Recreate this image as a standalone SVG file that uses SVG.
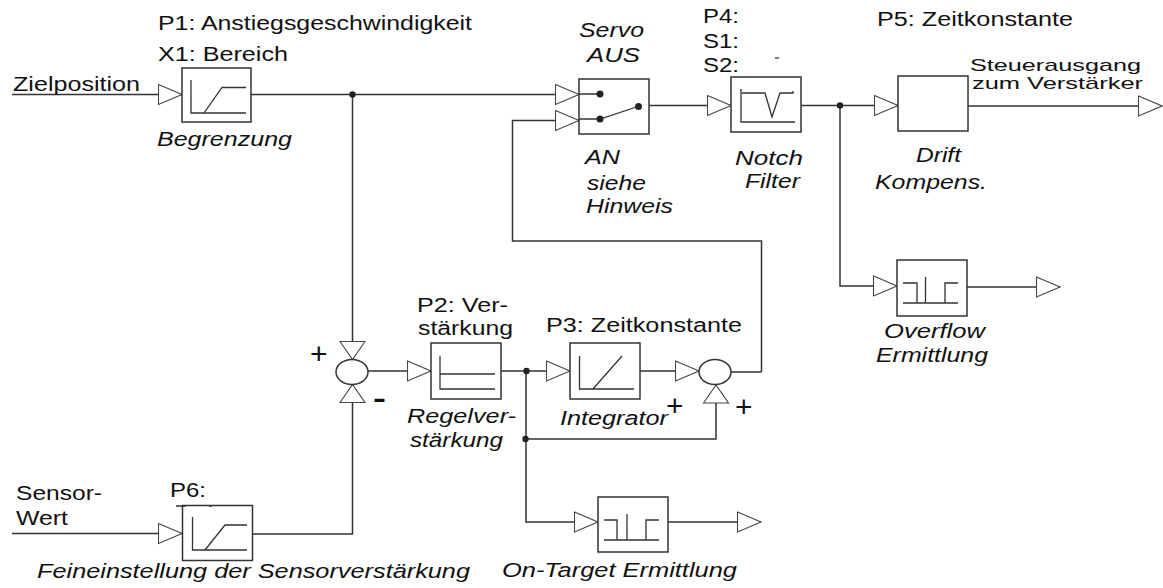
<svg xmlns="http://www.w3.org/2000/svg" width="1163" height="588" viewBox="0 0 1163 588">
<style>
.c{fill:none;stroke:#333;stroke-width:1.5}
.a{marker-end:url(#t)}
.v{marker-end:url(#u)}
.b{fill:#fff;stroke:#333;stroke-width:1.5}
.i{fill:none;stroke:#333;stroke-width:1.3}
.d{fill:#222;stroke:none}
text{font-family:"Liberation Sans",Arial,sans-serif;font-size:20px;fill:#111}
.it{font-style:italic}
.p{font-size:30px}
.s{font-size:17px}
</style>
<defs>
<marker id="t" markerUnits="userSpaceOnUse" markerWidth="26" markerHeight="24" refX="24.5" refY="11" orient="auto">
<path d="M1 1 L24.5 11 L1 21 Z" fill="#fff" stroke="#444" stroke-width="1.1"/>
</marker>
<marker id="u" markerUnits="userSpaceOnUse" markerWidth="21" markerHeight="28" refX="19" refY="14" orient="auto">
<path d="M1 1.5 L19 14 L1 26.5 Z" fill="#fff" stroke="#444" stroke-width="1.1"/>
</marker>
</defs>
<rect width="1163" height="588" fill="#fff"/>
<g id="connectors">
<path class="c a" d="M12 94.5H182"/>
<path class="c a" d="M251 94.5H579"/>
<path class="c v" d="M352.5 94.5V359.5"/>
<path class="c a" d="M761.5 372V241H512.5V120.5H579"/>
<path class="c a" d="M649 105.5H731"/>
<path class="c a" d="M801 105.5H898"/>
<path class="c a" d="M968 106H1162"/>
<path class="c a" d="M840 105.5V286H897"/>
<path class="c a" d="M967 287H1060"/>
<path class="c a" d="M368 371H431"/>
<path class="c a" d="M501 371H570"/>
<path class="c a" d="M640 371H699"/>
<path class="c" d="M731 372H761.5"/>
<path class="c a" d="M526 371V522H598"/>
<path class="c v" d="M526 439H716V385"/>
<path class="c a" d="M668 522H761"/>
<path class="c a" d="M12 533.5H182"/>
<path class="c v" d="M252 534H352.5V384.5"/>
<circle class="d" cx="352.5" cy="94.5" r="3.2"/>
<circle class="d" cx="840" cy="105.5" r="3.2"/>
<circle class="d" cx="526.5" cy="371" r="3.2"/>
<circle class="d" cx="525.5" cy="439" r="3.2"/>
</g>
<g id="begrenzung">
<rect class="b" x="182" y="68" width="69" height="54"/>
<path class="i" d="M191 80V113H246M204 113L222 87.5H246"/>
<text x="158" y="30" textLength="314" lengthAdjust="spacingAndGlyphs">P1: Anstiegsgeschwindigkeit</text>
<text x="158" y="61" textLength="130" lengthAdjust="spacingAndGlyphs">X1: Bereich</text>
<text class="it" x="157" y="146" textLength="135" lengthAdjust="spacingAndGlyphs">Begrenzung</text>
</g>
<g id="zielposition"><text x="13" y="91" textLength="127" lengthAdjust="spacingAndGlyphs">Zielposition</text></g>
<g id="servo">
<rect class="b" x="579" y="79" width="70" height="55"/>
<path class="i" d="M579 94H600M579 119H600L638 106.5"/>
<circle class="d" cx="600" cy="94" r="3.5"/>
<circle class="d" cx="600" cy="119" r="3.5"/>
<circle class="d" cx="638.5" cy="106.5" r="3.5"/>
<text class="it" x="579" y="37" textLength="65" lengthAdjust="spacingAndGlyphs">Servo</text>
<text class="it" x="587" y="62" textLength="53" lengthAdjust="spacingAndGlyphs">AUS</text>
<text class="it" x="585" y="164" textLength="35" lengthAdjust="spacingAndGlyphs">AN</text>
<text class="it" x="587" y="190" textLength="59" lengthAdjust="spacingAndGlyphs">siehe</text>
<text class="it" x="586" y="213" textLength="87" lengthAdjust="spacingAndGlyphs">Hinweis</text>
</g>
<g id="notch">
<rect class="b" x="731" y="77" width="70" height="55"/>
<path class="i" d="M741 89V122H795M742 93H765L772 117L780 93H793V91"/>
<text x="703" y="23" textLength="36" lengthAdjust="spacingAndGlyphs">P4:</text>
<text x="703" y="48" textLength="36" lengthAdjust="spacingAndGlyphs">S1:</text>
<text x="703" y="72" textLength="36" lengthAdjust="spacingAndGlyphs">S2:</text>
<path class="i" d="M775 58H779"/>
<text class="it" x="735" y="165" textLength="68" lengthAdjust="spacingAndGlyphs">Notch</text>
<text class="it" x="745" y="188" textLength="55" lengthAdjust="spacingAndGlyphs">Filter</text>
</g>
<g id="drift">
<rect class="b" x="898" y="76" width="70" height="55"/>
<text x="877" y="26" textLength="196" lengthAdjust="spacingAndGlyphs">P5: Zeitkonstante</text>
<text class="s" x="970" y="71" textLength="171" lengthAdjust="spacingAndGlyphs">Steuerausgang</text>
<text class="s" x="972" y="89" textLength="171" lengthAdjust="spacingAndGlyphs">zum Verstärker</text>
<text class="it" x="916" y="162" textLength="45" lengthAdjust="spacingAndGlyphs">Drift</text>
<text class="it" x="875" y="189" textLength="112" lengthAdjust="spacingAndGlyphs">Kompens.</text>
</g>
<g id="overflow">
<rect class="b" x="897" y="260" width="70" height="56"/>
<path class="i" d="M903 283H917V303M903 303H958M925.5 277V303M945 303V283H958"/>
<text class="it" x="884" y="338" textLength="101" lengthAdjust="spacingAndGlyphs">Overflow</text>
<text class="it" x="876" y="362" textLength="112" lengthAdjust="spacingAndGlyphs">Ermittlung</text>
</g>
<g id="sum1">
<ellipse class="b" cx="352" cy="372" rx="16" ry="12.5"/>
<text class="p" x="310" y="364">+</text>
<text x="373" y="407.5" textLength="13" lengthAdjust="spacingAndGlyphs" style="font-size:28px;font-weight:bold">-</text>
</g>
<g id="regelverstaerkung">
<rect class="b" x="431" y="343" width="70" height="56"/>
<path class="i" d="M440 356V389H495M440 374H495"/>
<text x="417" y="312" textLength="91" lengthAdjust="spacingAndGlyphs">P2: Ver-</text>
<text x="418" y="335" textLength="95" lengthAdjust="spacingAndGlyphs">stärkung</text>
<text class="it" x="407" y="423" textLength="109" lengthAdjust="spacingAndGlyphs">Regelver-</text>
<text class="it" x="410" y="447" textLength="93" lengthAdjust="spacingAndGlyphs">stärkung</text>
</g>
<g id="integrator">
<rect class="b" x="570" y="343" width="70" height="56"/>
<path class="i" d="M579.5 356V389H634M593 389L622 356"/>
<text x="546" y="332" textLength="196" lengthAdjust="spacingAndGlyphs">P3: Zeitkonstante</text>
<text class="it" x="560" y="425" textLength="108" lengthAdjust="spacingAndGlyphs">Integrator</text>
</g>
<g id="sum2">
<ellipse class="b" cx="715" cy="372" rx="16" ry="12.5"/>
<text class="p" x="666" y="416">+</text>
<text class="p" x="735" y="417">+</text>
</g>
<g id="sensor">
<rect class="b" x="182.5" y="505.5" width="70" height="55"/>
<path class="i" d="M192.5 517V550H247M205 550L225 525H247"/>
<path class="i" d="M176 506H186M209 506H212"/>
<text x="16" y="500" textLength="86" lengthAdjust="spacingAndGlyphs">Sensor-</text>
<text x="16" y="525" textLength="52" lengthAdjust="spacingAndGlyphs">Wert</text>
<text x="170" y="497" textLength="36" lengthAdjust="spacingAndGlyphs">P6:</text>
<text class="it" x="37" y="578" textLength="433" lengthAdjust="spacingAndGlyphs">Feineinstellung der Sensorverstärkung</text>
</g>
<g id="ontarget">
<rect class="b" x="598" y="497" width="70" height="55"/>
<path class="i" d="M604 520H617V540M604 540H659M627 514V540M646 540V520H659"/>
<text class="it" x="502" y="577" textLength="235" lengthAdjust="spacingAndGlyphs">On-Target Ermittlung</text>
</g>
</svg>
